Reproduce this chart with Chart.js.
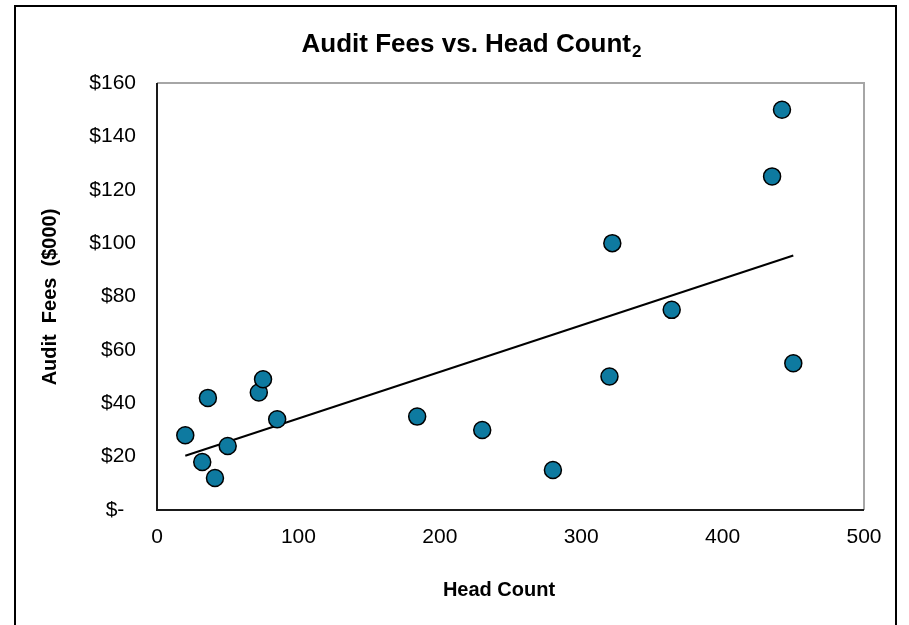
<!DOCTYPE html>
<html>
<head>
<meta charset="utf-8">
<script src="https://cdn.jsdelivr.net/npm/chart.js@4"></script>
<style>
  html, body { margin: 0; padding: 0; background: #fff; }
  #wrap { position: relative; width: 909px; height: 625px; }
</style>
</head>
<body>
<div id="wrap"><canvas id="auditChart" width="909" height="625"></canvas></div>
<script>
// head count (x) and audit fees in $000 (y)
const headCount = [20, 32, 36, 41, 50, 72, 75, 85, 184, 230, 280, 320, 322, 364, 435, 442, 450];
const auditFees = [28, 18, 42, 12, 24, 44, 49, 34, 35, 30, 15, 50, 100, 75, 125, 150, 55];
const xTicks = [0, 100, 200, 300, 400, 500];
const yTicks = [0, 20, 40, 60, 80, 100, 120, 140, 160];

const FONT = "'Liberation Sans', Arial, sans-serif";

// linear trendline (least squares), like Excel's
function trendline(xs, ys) {
  const n = xs.length;
  const mx = xs.reduce((a, b) => a + b, 0) / n;
  const my = ys.reduce((a, b) => a + b, 0) / n;
  let sxy = 0, sxx = 0;
  for (let i = 0; i < n; i++) {
    sxy += (xs[i] - mx) * (ys[i] - my);
    sxx += (xs[i] - mx) * (xs[i] - mx);
  }
  const b = sxy / sxx;
  const a = my - b * mx;
  const x0 = Math.min(...xs), x1 = Math.max(...xs);
  return [{ x: x0, y: a + b * x0 }, { x: x1, y: a + b * x1 }];
}

const points = headCount.map((x, i) => ({ x: x, y: auditFees[i] }));

// frame, plot box and the text that Chart.js can't lay out the same way
const decorations = {
  id: "decorations",
  beforeDatasetsDraw(chart) {
    const ctx = chart.ctx;
    const a = chart.chartArea;
    ctx.save();
    ctx.lineWidth = 2;
    ctx.strokeStyle = "#a6a6a6";
    ctx.beginPath();
    ctx.moveTo(a.left, a.top);
    ctx.lineTo(a.right, a.top);
    ctx.lineTo(a.right, a.bottom);
    ctx.stroke();
    ctx.strokeStyle = "#1a1a1a";
    ctx.beginPath();
    ctx.moveTo(a.left, a.top);
    ctx.lineTo(a.left, a.bottom);
    ctx.lineTo(a.right, a.bottom);
    ctx.stroke();
    ctx.restore();
  },
  afterDraw(chart) {
    const ctx = chart.ctx;
    ctx.save();
    // outer chart frame
    ctx.lineWidth = 2;
    ctx.strokeStyle = "#000";
    ctx.strokeRect(15, 6, 881, 700);

    ctx.fillStyle = "#000";
    ctx.textBaseline = "middle";

    // title with subscript 2
    const main = "Audit Fees vs. Head Count";
    ctx.font = "bold 26px " + FONT;
    const wMain = ctx.measureText(main).width;
    ctx.font = "bold 17px " + FONT;
    const wSub = ctx.measureText("2").width;
    let x = 471 - (wMain + wSub) / 2;
    ctx.textAlign = "left";
    ctx.font = "bold 26px " + FONT;
    ctx.fillText(main, x, 45);
    ctx.font = "bold 17px " + FONT;
    ctx.fillText("2", x + wMain + 1, 52);

    // axis titles
    ctx.textAlign = "center";
    ctx.font = "bold 20px " + FONT;
    ctx.fillText("Head Count", 499, 590);
    ctx.translate(50, 297);
    ctx.rotate(-Math.PI / 2);
    ctx.fillText("Audit  Fees  ($000)", 0, 0);
    ctx.restore();
  }
};

new Chart(document.getElementById("auditChart"), {
  type: "scatter",
  data: {
    datasets: [
      {
        label: "Audit Fees",
        data: points,
        backgroundColor: "#0e7aa0",
        borderColor: "#000",
        borderWidth: 1.5,
        pointRadius: 8.5,
        pointHoverRadius: 8.5,
        order: 0
      },
      {
        type: "line",
        label: "Trend",
        data: trendline(headCount, auditFees),
        borderColor: "#000",
        borderWidth: 2,
        pointRadius: 0,
        fill: false,
        order: 1
      }
    ]
  },
  options: {
    responsive: false,
    animation: false,
    layout: { padding: { top: 83, right: 45, left: 0, bottom: 0 } },
    plugins: {
      legend: { display: false },
      title: { display: false },
      tooltip: { enabled: false }
    },
    scales: {
      x: {
        type: "linear",
        min: 0,
        max: 500,
        afterBuildTicks: (scale) => { scale.ticks = xTicks.map((v) => ({ value: v })); },
        afterFit: (scale) => { scale.height = 115; },
        grid: { display: false, drawTicks: false },
        border: { display: false },
        ticks: {
          color: "#000",
          padding: 15,
          maxRotation: 0,
          font: { family: FONT, size: 21 }
        }
      },
      y: {
        type: "linear",
        min: 0,
        max: 160,
        afterBuildTicks: (scale) => { scale.ticks = yTicks.map((v) => ({ value: v })); },
        afterFit: (scale) => { scale.width = 157; },
        grid: { display: false, drawTicks: false },
        border: { display: false },
        ticks: {
          color: "#000",
          padding: 21,
          font: { family: FONT, size: 21 },
          callback: (v) => (v === 0 ? "$-  " : "$" + v)
        }
      }
    }
  },
  plugins: [decorations]
});
</script>
</body>
</html>
